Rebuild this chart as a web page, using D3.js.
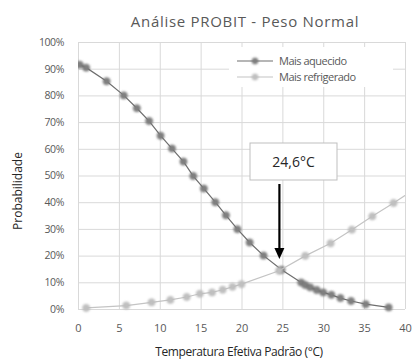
<!DOCTYPE html>
<html><head><meta charset="utf-8">
<script src="https://cdn.jsdelivr.net/npm/d3@7"></script>
<style>body{margin:0;background:#fff}svg{display:block}text{font-family:"Open Sans",sans-serif}</style>
</head><body>
<svg id="c" width="413" height="362"></svg>
<script>
const titleText = "Análise PROBIT - Peso Normal";
const xTitle = "Temperatura Efetiva Padrão (°C)";
const yTitle = "Probabilidade";
const seriesNames = ["Mais aquecido", "Mais refrigerado"];
const xTicks = [0, 5, 10, 15, 20, 25, 30, 35, 40];
const yTicks = [0, 0.1, 0.2, 0.3, 0.4, 0.5, 0.6, 0.7, 0.8, 0.9, 1.0];
const aqX = [0.2, 1.0, 3.5, 5.6, 7.2, 8.7, 10.1, 11.5, 12.9, 14.1, 15.4, 16.8, 18.1, 19.5, 21.0, 22.7, 24.9, 27.3, 27.8, 28.4, 29.2, 30.0, 31.0, 32.1, 33.4, 35.2, 38.0];
const aqY = [0.915, 0.904, 0.853, 0.800, 0.752, 0.704, 0.649, 0.601, 0.552, 0.498, 0.451, 0.400, 0.351, 0.299, 0.249, 0.200, 0.147, 0.099, 0.090, 0.081, 0.071, 0.062, 0.053, 0.041, 0.030, 0.018, 0.006];
const reX = [1.0, 5.9, 9.0, 11.3, 13.3, 14.9, 16.4, 17.7, 18.9, 20.0, 24.6, 27.8, 30.9, 33.5, 36.0, 38.6, 41.2];
const reY = [0.004, 0.013, 0.025, 0.034, 0.045, 0.057, 0.062, 0.072, 0.083, 0.093, 0.143, 0.199, 0.246, 0.297, 0.347, 0.397, 0.449];
const annotX = 24.6;
const annotLabel = "24,6°C";

const svg = d3.select("#c");
const L = 78, R = 405, T = 42, B = 309;
const x = d3.scaleLinear().domain([0, 40]).range([L, R]);
const y = d3.scaleLinear().domain([0, 1]).range([B, T]);

const defs = svg.append("defs");
defs.append("clipPath").attr("id", "clip").append("rect").attr("x", L).attr("y", T - 5).attr("width", R - L).attr("height", B - T + 10);
defs.append("filter").attr("id", "soft").attr("x", "-50%").attr("y", "-50%").attr("width", "200%").attr("height", "200%")
  .append("feGaussianBlur").attr("stdDeviation", 0.8);

// grid
svg.append("g").attr("transform", `translate(0,${B})`)
  .call(d3.axisBottom(x).tickValues(xTicks).tickSize(-(B - T)).tickFormat(""))
  .call(g => { g.select(".domain").remove(); g.selectAll("line").attr("stroke", "#d9d9d9"); });
svg.append("g").attr("transform", `translate(${L},0)`)
  .call(d3.axisLeft(y).tickValues(yTicks).tickSize(-(R - L)).tickFormat(""))
  .call(g => { g.select(".domain").remove(); g.selectAll("line").attr("stroke", "#d9d9d9"); });

// tick labels
svg.append("g").attr("transform", `translate(0,${B})`)
  .call(d3.axisBottom(x).tickValues(xTicks).tickSize(0).tickPadding(15).tickFormat(d3.format("d")))
  .call(g => { g.select(".domain").remove(); g.selectAll("text").attr("fill", "#595959").attr("font-size", 11).attr("font-family", "Open Sans"); });
svg.append("g").attr("transform", `translate(${L},0)`)
  .call(d3.axisLeft(y).tickValues(yTicks).tickSize(0).tickPadding(14).tickFormat(d3.format(".0%")))
  .call(g => { g.select(".domain").remove(); g.selectAll("text").attr("fill", "#595959").attr("font-size", 10.5).attr("font-family", "Open Sans").attr("letter-spacing", -0.4); });

// titles
svg.append("text").attr("x", 245).attr("y", 26.5).attr("text-anchor", "middle").attr("font-size", 15).attr("fill", "#595959").attr("letter-spacing", 0.7).text(titleText);
svg.append("text").attr("x", 239).attr("y", 356).attr("text-anchor", "middle").attr("font-size", 12).attr("fill", "#262626").attr("letter-spacing", -0.4).text(xTitle);
svg.append("text").attr("transform", "translate(22,191) rotate(-90)").attr("text-anchor", "middle").attr("font-size", 12).attr("fill", "#262626").text(yTitle);

const line = d3.line().x(d => x(d[0])).y(d => y(d[1]));
const series = [
  { name: seriesNames[0], pts: d3.zip(aqX, aqY), line: "#6e6e6e", mark: "#808080", stroke: "#6a6a6a" },
  { name: seriesNames[1], pts: d3.zip(reX, reY), line: "#c4c4c4", mark: "#c0c0c0", stroke: "#b4b4b4" }
];
const plot = svg.append("g").attr("clip-path", "url(#clip)");
series.forEach(s => {
  plot.append("path").datum(s.pts).attr("d", line).attr("fill", "none").attr("stroke", s.line).attr("stroke-width", 1.2);
  plot.append("g").attr("filter", "url(#soft)").selectAll("circle").data(s.pts).join("circle")
    .attr("cx", d => x(d[0])).attr("cy", d => y(d[1])).attr("r", 3.5)
    .attr("fill", s.mark).attr("stroke", s.stroke).attr("stroke-width", 0.8);
});

// legend
const lg = svg.append("g");
lg.append("rect").attr("x", 229).attr("y", 47).attr("width", 164).attr("height", 40).attr("fill", "#fff");
series.forEach((s, i) => {
  const yy = 61 + i * 16;
  lg.append("line").attr("x1", 237).attr("x2", 273).attr("y1", yy).attr("y2", yy).attr("stroke", s.line).attr("stroke-width", 1.2);
  lg.append("circle").attr("cx", 255).attr("cy", yy).attr("r", 3).attr("fill", s.mark).attr("stroke", s.stroke).attr("stroke-width", 0.8).attr("filter", "url(#soft)");
  lg.append("text").attr("x", 279).attr("y", yy + 4).attr("font-size", 11).attr("fill", "#595959").attr("letter-spacing", -0.5).text(s.name);
});

// annotation
const ax = x(annotX) + 0.3;
svg.append("rect").attr("x", 250).attr("y", 143).attr("width", 87).attr("height", 37).attr("fill", "#fff").attr("stroke", "#bfbfbf").attr("stroke-width", 1);
svg.append("text").attr("x", 293.5).attr("y", 167).attr("text-anchor", "middle").attr("font-size", 14).attr("fill", "#262626").text(annotLabel);
svg.append("line").attr("x1", ax).attr("x2", ax).attr("y1", 184).attr("y2", 250).attr("stroke", "#000").attr("stroke-width", 2.2);
svg.append("path").attr("d", `M${ax - 5},248 L${ax + 5},248 L${ax},259 Z`).attr("fill", "#000");
</script>
</body></html>
